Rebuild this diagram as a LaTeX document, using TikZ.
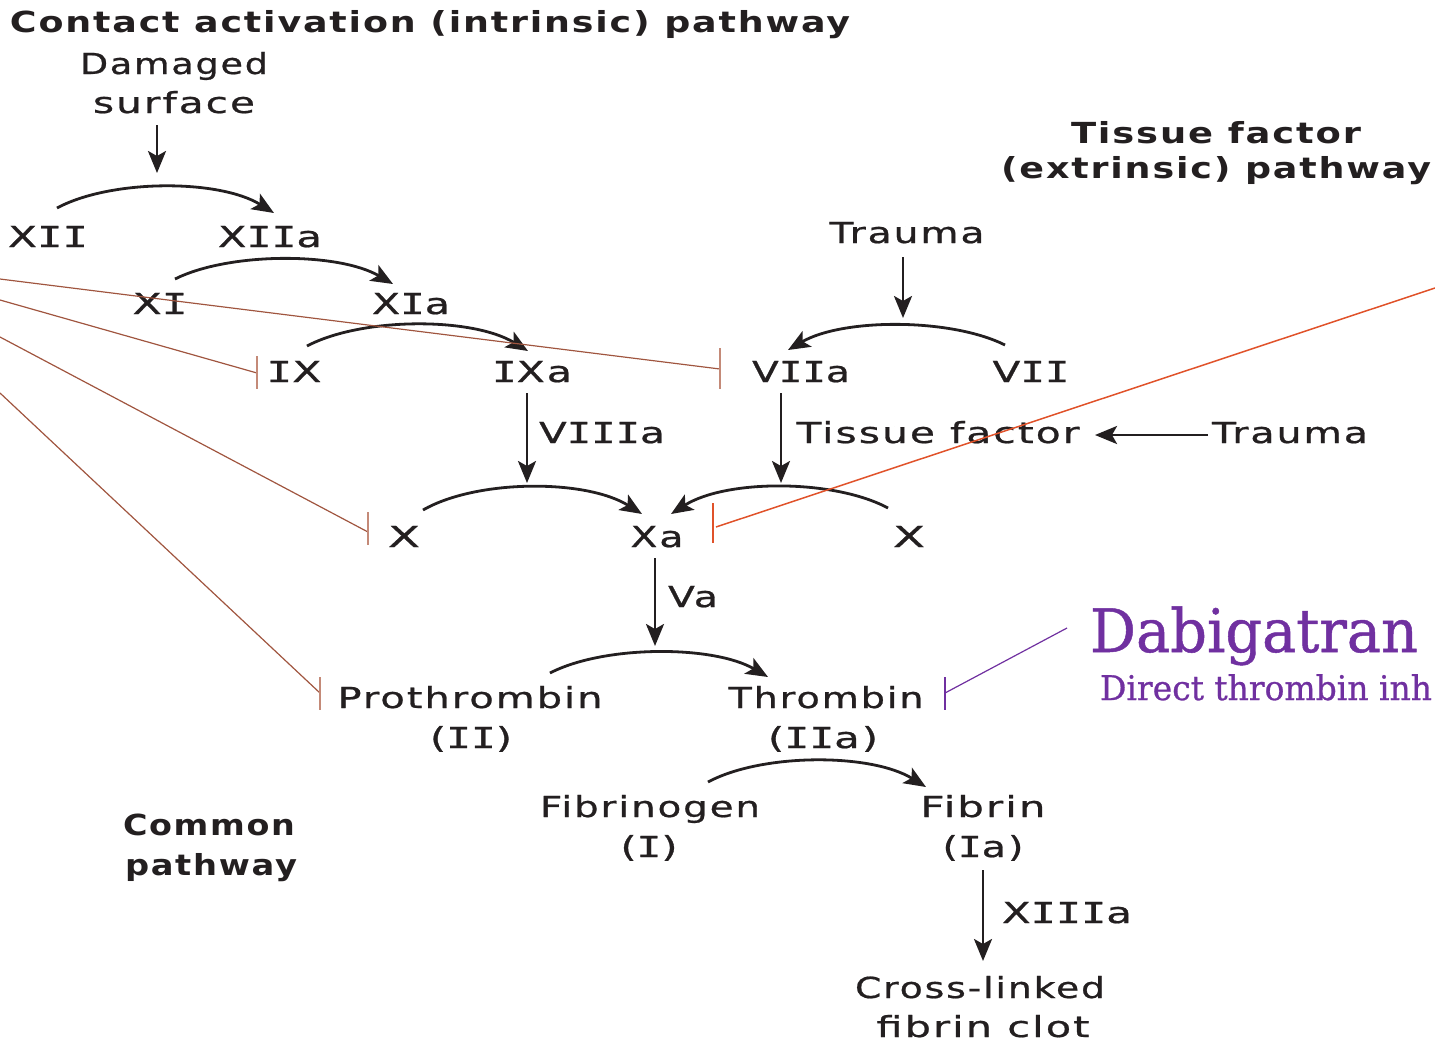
\documentclass[tikz,border=0pt]{standalone}
\usepackage{graphicx}
\usepackage{fontspec}
\setmainfont{DejaVu Sans}[LetterSpace=5, UprightFeatures={FakeBold=0.7}]
\newfontfamily\monoI{DejaVu Sans Mono}[FakeBold=0.7]
\newfontfamily\dabfont{DejaVu Serif}[FakeBold=0.8]
\newcommand\sI{{\monoI I}}
\usetikzlibrary{arrows.meta}
\definecolor{ink}{HTML}{231F20}
\definecolor{inhline}{HTML}{A0553F}
\definecolor{inhbar}{HTML}{C48A78}
\definecolor{orng}{HTML}{E0522A}
\definecolor{purp}{HTML}{7030A0}
\newcommand\fw[2]{\setbox0\hbox{#2}\pgfmathsetmacro\fwfac{0.5*#1/\the\wd0}\scalebox{\fwfac}[1]{\box0}}
\begin{document}
\begin{tikzpicture}[x=0.5pt,y=-0.5pt,
  lbl/.style={inner sep=0pt, anchor=base, text=ink, font=\fontsize{14.5}{17}\selectfont},
  ttl/.style={lbl, font=\fontsize{14.5}{17}\selectfont\bfseries},
  arr/.style={draw=ink, line width=1.4pt, -{Stealth[length=11pt,width=9pt,inset=2.5pt]}},
  inh/.style={draw=inhline, line width=0.6pt},
  inhb/.style={draw=inhbar, line width=0.7pt},
  org/.style={draw=orng, line width=0.75pt},
  pur/.style={draw=purp, line width=0.6pt}]
\path[use as bounding box] (0,0) rectangle (1435,1046);

% titles
\node[ttl] (t1) at (430,32) {\fw{840}{Contact activation (intrinsic) pathway}};
\node[ttl] (tf1) at (1216,143) {\fw{290}{Tissue factor}};
\node[ttl] (tf2) at (1216,178) {\fw{430}{(extrinsic) pathway}};
\node[ttl] (com) at (209,835) {\fw{172}{Common}};
\node[ttl] (pw) at (211,875) {\fw{172}{pathway}};

% labels
\node[lbl] (dam) at (174,74) {\fw{188}{Damaged}};
\node[lbl] (sur) at (174,113) {\fw{162}{surface}};
\node[lbl] (XII) at (48,247) {\fw{80}{X\sI\sI}};
\node[lbl] (XIIa) at (270,247) {\fw{104}{X\sI\sI a}};
\node[lbl] (XI) at (160,314) {\fw{55}{X\sI}};
\node[lbl] (XIa) at (411,314) {\fw{78}{X\sI a}};
\node[lbl] (IX) at (294,382) {\fw{55}{\sI X}};
\node[lbl] (IXa) at (532,382) {\fw{80}{\sI Xa}};
\node[lbl] (VIIa) at (801,382) {\fw{98}{V\sI\sI a}};
\node[lbl] (VII) at (1031,382) {\fw{77}{V\sI\sI}};
\node[lbl] (tr1) at (907,243) {\fw{155}{Trauma}};
\node[lbl] (VIIIa) at (602,443) {\fw{126}{V\sI\sI\sI a}};
\node[lbl] (tf) at (938,443) {\fw{283}{Tissue factor}};
\node[lbl] (tr2) at (1290,443) {\fw{156}{Trauma}};
\node[lbl] (X1) at (404,547) {\fw{32}{X}};
\node[lbl] (Xa) at (657,547) {\fw{53}{Xa}};
\node[lbl] (X2) at (909,547) {\fw{32}{X}};
\node[lbl] (Va) at (693,607) {\fw{50}{Va}};
\node[lbl] (pro) at (470,708) {\fw{265}{Prothrombin}};
\node[lbl] (II) at (471,748) {\fw{82}{(\sI\sI)}};
\node[lbl] (thr) at (826,708) {\fw{195}{Thrombin}};
\node[lbl] (IIa) at (823,748) {\fw{110}{(\sI\sI a)}};
\node[lbl] (fng) at (650,817) {\fw{220}{Fibrinogen}};
\node[lbl] (I) at (649,857) {\fw{57}{(\sI)}};
\node[lbl] (fib) at (983,817) {\fw{125}{Fibrin}};
\node[lbl] (Ia) at (983,857) {\fw{81}{(\sI a)}};
\node[lbl] (XIIIa) at (1067,923) {\fw{130}{X\sI\sI\sI a}};
\node[lbl] (cl1) at (980,998) {\fw{250}{Cross-linked}};
\node[lbl] (cl2) at (983,1037) {\fw{213}{fibrin clot}};
\node[lbl, text=purp, font=\fontsize{30}{34}\dabfont] (dab) at (1254,652) {\fw{328}{Dabigatran}};
\node[lbl, text=purp, font=\fontsize{17}{20}\dabfont] (dti) at (1266,700) {\fw{332}{Direct thrombin inh}};

% arrow end points
\coordinate (s0) at (157,125); \coordinate (e0) at (157,173);
\coordinate (s1) at (903,257); \coordinate (e1) at (903,318);
\coordinate (s2) at (527,393); \coordinate (e2) at (527,483);
\coordinate (s3) at (781,393); \coordinate (e3) at (781,483);
\coordinate (s4) at (655,558); \coordinate (e4) at (655,646);
\coordinate (s5) at (983,870); \coordinate (e5) at (983,961);
\coordinate (s6) at (1208,435); \coordinate (e6) at (1095,435);

\draw[arr] (s0) -- (e0);
\draw[arr] (s1) -- (e1);
\draw[arr] (s2) -- (e2);
\draw[arr] (s3) -- (e3);
\draw[arr] (s4) -- (e4);
\draw[arr] (s5) -- (e5);
\draw[arr] (s6) -- (e6);

% curved conversions
\coordinate (cA1) at (57,208);  \coordinate (cB1) at (274,213);
\coordinate (cA2) at (175,279); \coordinate (cB2) at (393,284);
\coordinate (cA3) at (307,346); \coordinate (cB3) at (528,351);
\coordinate (cA4) at (1005,345); \coordinate (cB4) at (788,350);
\coordinate (cA5) at (423,510); \coordinate (cB5) at (642,514);
\coordinate (cA6) at (888,508); \coordinate (cB6) at (671,514);
\coordinate (cA7) at (550,673); \coordinate (cB7) at (768,677);
\coordinate (cA8) at (708,782); \coordinate (cB8) at (926,787);

\draw[arr] (cA1) .. controls (111,179) and (219,179) .. (cB1);
\draw[arr] (cA2) .. controls (229,252) and (338,252) .. (cB2);
\draw[arr] (cA3) .. controls (362,317) and (472,317) .. (cB3);
\draw[arr] (cA4) .. controls (951,318) and (843,318) .. (cB4);
\draw[arr] (cA5) .. controls (477,479) and (586,479) .. (cB5);
\draw[arr] (cA6) .. controls (834,479) and (726,479) .. (cB6);
\draw[arr] (cA7) .. controls (604,645) and (713,645) .. (cB7);
\draw[arr] (cA8) .. controls (762,753) and (871,753) .. (cB8);

% inhibition lines (brown)
\coordinate (h1) at (0,279); \coordinate (k1) at (720,369);
\coordinate (h2) at (0,300); \coordinate (k2) at (257,373);
\coordinate (h3) at (0,337); \coordinate (k3) at (368,532);
\coordinate (h4) at (0,393); \coordinate (k4) at (320,693);
\draw[inh] (h1) -- (k1);
\draw[inh] (h2) -- (k2);
\draw[inh] (h3) -- (k3);
\draw[inh] (h4) -- (k4);
\draw[inhb] (k1) ++(0,-21) -- ++(0,41);
\draw[inhb] (k2) ++(0,-17) -- ++(0,33);
\draw[inhb] (k3) ++(0,-20) -- ++(0,33);
\draw[inhb] (k4) ++(0,-16) -- ++(0,33);

% orange line
\coordinate (h5) at (1435,288); \coordinate (k5) at (716,527);
\draw[org] (h5) -- (k5);
\draw[org] (713,503) -- (713,543);

% purple line
\coordinate (h6) at (1067,628); \coordinate (k6) at (945,693);
\draw[pur] (h6) -- (k6);
\draw[pur] (945,677) -- (945,710);
\end{tikzpicture}
\end{document}
